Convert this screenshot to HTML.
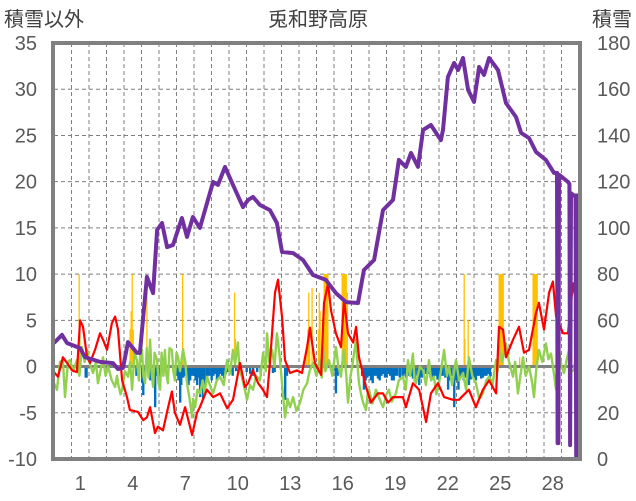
<!DOCTYPE html>
<html><head><meta charset="utf-8">
<style>
html,body{margin:0;padding:0;background:#fff;}
svg{display:block;font-family:"Liberation Sans","Noto Sans CJK JP",sans-serif;}
.tk{font-size:20px;fill:#595959;}
</style></head>
<body>
<svg id="chart" width="636" height="501" viewBox="0 0 636 501" xmlns="http://www.w3.org/2000/svg">
<text x="318" y="26" text-anchor="middle" font-size="20" fill="#404040" font-family="Liberation Sans, Noto Sans CJK JP, sans-serif">兎和野高原</text>
<text x="4" y="26" font-size="20" fill="#404040" font-family="Liberation Sans, Noto Sans CJK JP, sans-serif">積雪以外</text>
<text x="632" y="26" text-anchor="end" font-size="20" fill="#404040" font-family="Liberation Sans, Noto Sans CJK JP, sans-serif">積雪</text>
<g id="grid"></g>
<g id="bars"></g>
<g id="lines"></g>
<g id="axes"></g>
</svg>
<script>
const leftTicks=[-10,-5,0,5,10,15,20,25,30,35];
const rightTicks=[0,20,40,60,80,100,120,140,160,180];
const dayLabels=[1,4,7,10,13,16,19,22,25,28];
const snowT=[0,0.46,0.74,1.49,1.77,2.63,3.37,3.66,3.94,4.23,4.74,4.91,5.31,5.66,5.89,6.17,6.46,6.8,7.31,7.6,7.94,8.34,8.63,9.09,9.37,9.77,10.23,10.8,11.09,11.37,11.77,12.34,12.74,13.03,13.66,14.23,14.8,15.54,16.11,16.69,17.37,17.71,18.29,18.8,19.37,19.71,20.11,20.4,20.8,21.09,21.54,22.11,22.23,22.51,22.86,23.09,23.37,23.66,24,24.29,24.57,24.86,25.37,25.83,26.4,26.69,27.14,27.54,28.11,28.57,28.74,28.78,28.82,28.86,29.37,29.45,29.49,29.54,29.71,29.8,29.84,29.9,30];
const snowV=[50.2,53.7,50.2,48,44.1,42,41.5,38.9,39.4,50.6,45.9,45.9,78.8,71.8,99.1,102.1,91.7,92.6,104.3,96.1,104.7,100,107.7,119.9,118.6,126.4,118.6,109,112.1,113.4,109.9,107.7,102.1,89.6,89.1,86.1,79.6,77.5,71.8,67.9,67.5,81.8,86.1,107.7,112.1,129.4,126.4,132.4,126.4,142.4,144.5,138,142.4,165.3,171.4,168.3,173.5,159.7,154.5,169.6,166.2,173.5,168.3,154,148,141.1,138.9,132.9,129.4,123.8,123.8,6.9,6.9,123,119.9,119,6,115,114,114,1,114,114];
const tempT=[0,0.23,0.51,0.74,1.03,1.31,1.49,1.66,1.89,2.06,2.34,2.63,2.8,3.03,3.31,3.49,3.66,3.89,4.17,4.34,4.8,5.09,5.31,5.49,5.77,5.94,6.23,6.51,6.74,6.91,7.2,7.49,7.89,8.17,8.34,8.74,9.09,9.49,9.89,10.23,10.63,10.91,11.09,11.37,11.66,11.94,12.17,12.34,12.63,12.8,13.03,13.2,13.49,13.89,14.17,14.46,14.63,14.91,15.26,15.43,15.66,15.83,16.11,16.4,16.57,16.8,17.09,17.26,17.43,17.83,18.11,18.51,18.8,19.09,19.37,19.94,20.11,20.51,20.86,21.26,21.54,21.94,22.29,22.8,23.14,23.71,24.11,24.51,24.86,25.26,25.43,25.66,25.83,26.23,26.57,26.86,27.14,27.54,27.71,28,28.29,28.51,28.69,29.09,29.37,29.66,29.94];
const tempV=[-0.6,-1.1,1,0.4,-0.4,-0.6,5,4.3,1,0.4,1.8,3.6,2.9,1.8,4.7,5.4,4,-1.5,-3.3,-4.7,-4.9,-5.8,-5.5,-4.4,-7.2,-6.5,-6.9,-4.5,-2.7,-5,-6.3,-4.4,-7.4,-5,-4.4,-2.5,-3.3,-2.9,-4.5,-3.6,0.4,-2.2,-1.8,-0.4,-1.8,-2.5,-3.3,0.4,8,9.4,5.4,0.7,-0.7,-0.4,-0.7,2.1,4.2,0.4,-0.9,6.9,9,6.1,3.6,2.1,7.2,3.6,2.6,4.3,1,-2.2,-3.9,-2.9,-2.9,-3.9,-3.3,-3.3,-4.4,-1.8,-2.5,-6,-2.9,-1.8,-3.3,-3.6,-3.6,-2.5,-4.4,-2.5,-1.5,-2.9,4.3,4,1,2.9,4.3,1.5,1.8,5.8,6.9,4,8,9.2,5.4,3.6,3.6,9,5.8];
const greenT=[0,0.17,0.34,0.51,0.63,0.8,0.91,1.1,1.31,1.45,1.6,1.75,1.89,2.05,2.23,2.4,2.51,2.65,2.8,2.95,3.09,3.3,3.49,3.6,3.66,3.8,3.89,4.05,4.23,4.35,4.46,4.6,4.74,4.85,4.95,5.03,5.1,5.2,5.3,5.4,5.49,5.57,5.66,5.75,5.89,5.97,6.06,6.15,6.25,6.34,6.42,6.51,6.6,6.74,6.82,6.91,7,7.09,7.2,7.37,7.5,7.6,7.75,7.89,7.95,8.06,8.2,8.34,8.5,8.6,8.74,8.9,9.09,9.3,9.49,9.7,9.89,10.05,10.23,10.35,10.51,10.6,10.74,10.9,11.03,11.2,11.37,11.55,11.77,11.95,12.1,12.17,12.3,12.46,12.6,12.74,12.9,13.03,13.2,13.35,13.49,13.66,13.85,14.06,14.25,14.46,14.6,14.8,15,15.2,15.3,15.37,15.5,15.71,15.9,16.11,16.25,16.4,16.5,16.57,16.7,16.8,16.95,17.09,17.26,17.35,17.43,17.55,17.66,17.83,17.92,18,18.2,18.4,18.6,18.8,19,19.14,19.3,19.54,19.7,19.94,20.1,20.23,20.35,20.51,20.6,20.69,20.9,21.09,21.25,21.43,21.55,21.71,21.85,22,22.15,22.29,22.45,22.57,22.75,22.97,23.15,23.37,23.55,23.71,23.9,24.11,24.3,24.51,24.7,24.86,25.05,25.26,25.35,25.43,25.6,25.83,26,26.23,26.35,26.51,26.65,26.8,26.95,27.14,27.3,27.43,27.55,27.71,27.9,28.11,28.25,28.4,28.55,28.69,28.75,28.86,29,29.14,29.3,29.43,29.55,29.71,29.85,30];
const greenV=[-1.8,-2.5,0.5,0.7,-3.3,0.5,0.7,-0.5,0.7,-1,2.1,0.5,1.8,0.3,-0.7,0.5,-1.8,-0.5,1,-1,0,-1.5,-2.2,-1,-1.8,-3,-2.5,-0.5,-1.1,0.5,-2.5,1.5,0.7,-1.5,2,1.8,-1,-1.8,2,-1.2,2.9,-0.5,-2.2,1.5,0.7,-1.8,-2.5,1.5,-1,1.8,-0.8,-1.8,2,1.8,-0.5,-1.5,1.5,1,-0.5,1.8,0.5,-1.8,-3.5,-5.5,-3.5,-4.4,-2.5,-2.9,-1.5,-3,-1.1,-2,-2.9,-1.5,-1.1,-2,0.7,-0.8,1.8,0.3,2.6,-0.5,-1.1,-2.5,-3.6,-2,-2.5,-1,-1.5,1.5,-0.5,3.6,0.5,1.8,0,3.6,1,-1.8,-5.5,-3.5,-4.4,-3.3,-4.8,-3.9,-2.5,-1.8,-0.5,0.4,-1,0.7,-1.2,2.1,-0.5,0.7,-1,2.1,0,-1.1,1,1.8,-1,-3.9,-1,0.7,2.9,0,-1.8,-3,-3.9,-4.7,-3,-2.5,-4,-2.5,-3.5,-4.4,-3,-2.5,-3.8,-2.9,-1.5,-1.1,-2.5,0.7,-1,1.4,-1.5,-1.8,0,-0.4,-2,0.7,-1.5,-1.1,-3,-1.8,0,1.8,-1,0,-2,0.7,-1.5,-0.7,-2.5,1,-1,-1.8,-3.5,-2.9,-1.5,-1.1,-2,0.7,-0.5,2.1,0.5,2.5,0.5,-1.1,0.5,-2.9,-1,1,-1,0,-1.5,-3.3,-0.5,1.8,0.5,2.5,0.8,1.4,-0.5,-2.5,0.5,1.8,0,-0.7,0.8,1.8,-0.5,-0.4,1.5,1.4];
const precipT=[1.43,1.47,4.34,4.4,4.46,4.52,5.3,7.34,7.4,10.31,10.36,14.4,14.5,14.55,14.6,14.74,15.1,15.15,15.2,15.43,15.47,15.51,15.55,15.6,15.64,16.46,16.5,16.54,16.58,16.62,16.66,16.69,16.75,23.43,23.47,23.66,25.43,25.47,25.51,25.55,25.6,25.64,25.66,26.6,27.37,27.41,27.45,27.49,27.53,27.57,27.6];
const precipV=[10,5,4,6,10,4,8,10,2,8,3,2,4,8,4,8.5,4,8,6,10,10,10,10,10,10,10,10,10,10,10,10,10,8,10,3,5,10,10,10,10,10,10,10,1,10,10,10,10,10,10,10];
const meltT=[1.8,1.85,4.7,5.03,5.09,5.2,5.5,5.77,5.83,6.06,7.0,7.1,7.2,7.26,7.38,7.49,7.6,7.68,7.77,7.88,8.0,8.08,8.17,8.25,8.34,8.4,8.51,8.6,8.74,8.86,9.0,9.1,9.2,9.3,9.4,9.5,9.6,9.7,9.8,9.9,10.0,10.2,10.4,11.0,11.2,11.37,11.6,11.8,12.5,12.6,13.2,13.3,16.0,16.1,16.2,17.6,17.7,17.8,17.9,18.0,18.1,18.2,18.3,18.4,18.5,18.6,18.7,18.8,18.9,19.0,19.1,19.2,19.3,19.4,19.5,19.6,19.75,19.9,20.0,20.1,20.25,20.4,20.5,20.6,20.75,20.86,21.0,21.1,21.25,21.4,21.5,21.6,21.7,21.8,21.9,22.0,22.1,22.2,22.35,22.51,22.6,22.7,22.86,23.0,23.1,23.2,23.3,23.4,23.5,23.6,23.7,23.8,23.9,24.0,24.1,24.2,24.3,24.4,24.5,24.6,24.7,24.8,24.9];
const meltV=[-1.2,-1.2,-1,-1.8,-3.1,-1,-1.5,-4.4,-1,-1.5,-1,-1.5,-3.9,-2,-1.2,-1,-1.2,-2,-1.5,-1,-1,-1.5,-2,-1.2,-3.3,-1.5,-3.6,-2,-1.5,-1,-1.5,-1,-0.8,-1.5,-1.2,-0.8,-1,-1.3,-0.8,-0.6,-0.6,-1,-0.5,-0.6,-0.8,-1,-0.6,-1,-0.7,-0.6,-3.6,-1,-0.5,-2.9,-1,-1,-2.5,-1.5,-1.2,-1,-1.5,-1.8,-1,-1,-1.3,-1.5,-1,-0.8,-1.2,-1.2,-0.8,-1,-1.5,-1.5,-1,-1,-1.2,-1,-0.8,-1.2,-1,-1,-1.3,-1.5,-1,-2,-1.2,-1,-0.8,-0.8,-1.2,-1.2,-1,-1,-1.4,-1.5,-1,-1,-1.2,-2.5,-1.5,-1,-4.4,-1.5,-2.5,-1.3,-1,-1.5,-1.2,-1,-2,-1.4,-1,-1.2,-1.5,-1,-1,-1.3,-1.2,-1,-1,-0.8,-1.2,-1];

const NS='http://www.w3.org/2000/svg';
const X0=54,X1=579,Y0=43,Y1=459,SLOTS=30;
function xs(t){return X0+t*(X1-X0)/SLOTS;}
function yl(v){return Y1-(v+10)*(Y1-Y0)/45;}
function yr(v){return Y1-v*(Y1-Y0)/180;}
function mk(tag,attrs,parent){const e=document.createElementNS(NS,tag);for(const k in attrs)e.setAttribute(k,attrs[k]);parent.appendChild(e);return e;}
const grid=document.getElementById('grid'),bars=document.getElementById('bars'),lines=document.getElementById('lines'),axes=document.getElementById('axes');

for(let k=1;k<SLOTS;k++){
  const l=mk('line',{x1:xs(k),x2:xs(k),y1:Y0,y2:Y1,stroke:'#7f7f7f','stroke-width':1,'stroke-dasharray':'4,3'},grid);
  
  
}
leftTicks.forEach(v=>{
  if(v!==0&&v!==-10&&v!==35){
    const l=mk('line',{x1:X0,x2:X1,y1:yl(v),y2:yl(v),stroke:'#7f7f7f','stroke-width':1,'stroke-dasharray':'4,3'},grid);
    
    
  }
  const t=mk('text',{x:37,y:yl(v)+7,'text-anchor':'end',class:'tk'},axes);
  t.textContent=v;
  
  
});
rightTicks.forEach(v=>{
  const t=mk('text',{x:597,y:yr(v)+7,class:'tk'},axes);
  t.textContent=v;
  
  
});
dayLabels.forEach(d=>{
  const t=mk('text',{x:xs(d+0.5),y:490,'text-anchor':'middle',class:'tk'},axes);
  t.textContent=d;
  
  
});
precipT.forEach((t,i)=>{
  const y=yl(precipV[i]);
  const r=mk('rect',{x:xs(t)-0.5,y:y,width:1.3,height:yl(0)-y,fill:'#ffc000'},bars);
  
  
});
meltT.forEach((t,i)=>{
  const y=yl(meltV[i]);
  const r=mk('rect',{x:xs(t)-1,y:yl(0),width:2.4,height:y-yl(0),fill:'#0070c0'},bars);
  
  
});
const zl=mk('line',{x1:X0,x2:X1,y1:yl(0),y2:yl(0),stroke:'#808080','stroke-width':3},bars);


function poly(T,V,yf,color,w,name){
  const p=mk('polyline',{points:T.map((t,i)=>xs(t).toFixed(1)+','+yf(V[i]).toFixed(1)).join(' '),fill:'none',stroke:color,'stroke-width':w,'stroke-linejoin':'round'},lines);
  
  
}
poly(greenT,greenV,yl,'#92d050',2.4,'humidity-line');
poly(tempT,tempV,yl,'#ff0000',2.2,'temperature-line');
poly(snowT,snowV,yr,'#7030a0',4,'snow-depth-line');
const fr=mk('path',{d:`M${X0-1},${Y1} V${Y0} H${X1+1} V${Y1} Z`,fill:'none',stroke:'#808080','stroke-width':4},axes);


</script>
</body></html>
